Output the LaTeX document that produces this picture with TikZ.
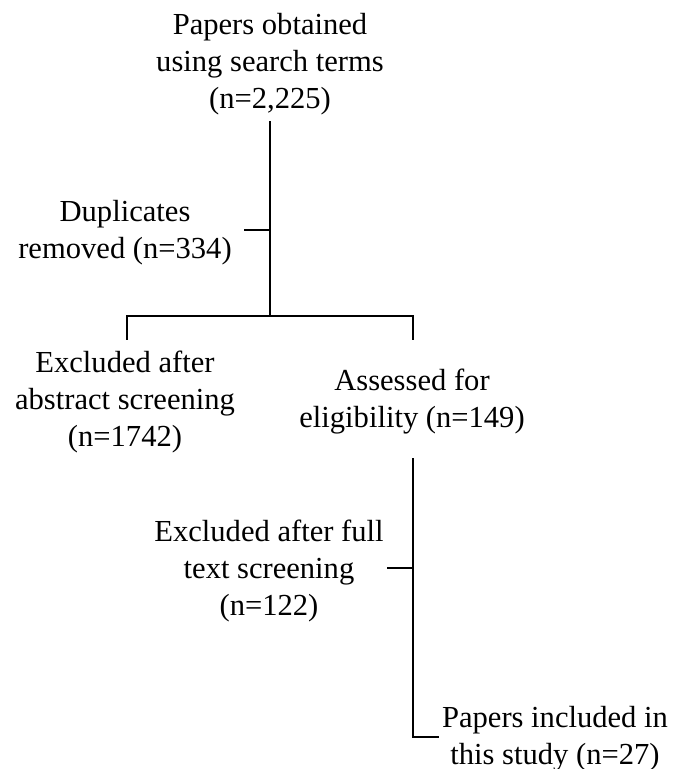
\documentclass[tikz,border=0pt]{standalone}
\usepackage{fontspec}
\setmainfont{Liberation Serif}
\usetikzlibrary{positioning, calc}
\tikzset{
    label/.style={
        align=center,
        inner sep=0pt,
        anchor=base,
        font=\fontsize{17.4}{20.8}\selectfont
    },
    line/.style={line width=1.6pt, line cap=rect}
}

\begin{document}
\begin{tikzpicture}

\useasboundingbox (0,0) rectangle (13.48,-15.38);

% nodes sit on the baseline of their last line
\node[label] (search) at (5.40,-2.16) {Papers obtained\\using search terms\\(n=2,225)};
\node[label] (dup) at (2.50,-5.16) {Duplicates\\removed (n=334)};
\node[label] (abstract) at (2.50,-8.92) {Excluded after\\abstract screening\\(n=1742)};
\node[label] (assessed) at (8.24,-8.54) {Assessed for\\eligibility (n=149)};
\node[label] (fulltext) at (5.38,-12.30) {Excluded after full\\text screening\\(n=122)};
\node[label] (included) at (11.10,-15.28) {Papers included in\\this study (n=27)};

% junction points
\coordinate (top) at (5.40,-2.44);
\coordinate (split) at (5.40,-6.32);
\coordinate (duptick) at (4.90,-4.60);
\coordinate (left) at (2.54,-6.78);
\coordinate (right) at (8.26,-6.78);
\coordinate (mid) at (8.26,-9.18);
\coordinate (corner) at (8.26,-14.74);
\coordinate (fulltick) at (7.76,-11.36);
\coordinate (end) at (8.76,-14.74);

\draw[line] (top) -- (split);
\draw[line] (duptick) -- (duptick -| split);
\draw[line] (left) |- (split) -| (right);
\draw[line] (mid) -- (corner) -- (end);
\draw[line] (fulltick) -- (fulltick -| mid);

\end{tikzpicture}
\end{document}
